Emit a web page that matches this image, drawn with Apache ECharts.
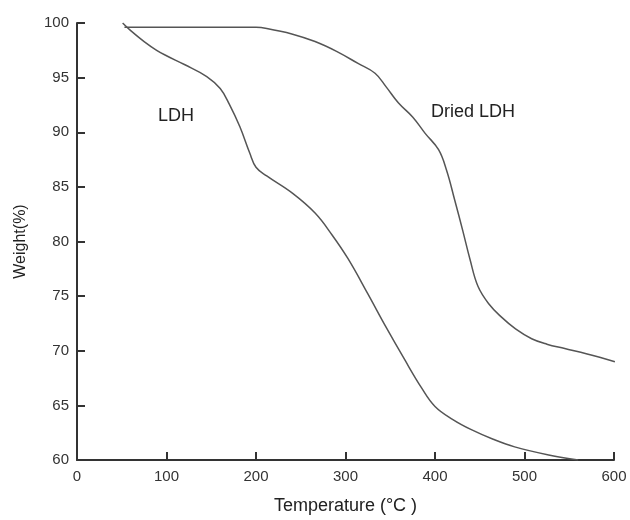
<!DOCTYPE html>
<html>
<head>
<meta charset="utf-8">
<script src="https://cdn.jsdelivr.net/npm/echarts@6/dist/echarts.min.js"></script>
<style>html,body{margin:0;padding:0;background:#fff}#c{width:630px;height:520px}</style>
</head>
<body>
<div id="c"></div>
<script>
var xTicks = [0, 100, 200, 300, 400, 500, 600];
var yTicks = [60, 65, 70, 75, 80, 85, 90, 95, 100];

var ldhTemp = [51, 60, 75, 89, 100, 120, 145, 160, 170, 182, 193, 200, 212, 241, 266, 285, 303, 325, 345, 366, 385, 400, 420, 440, 465, 489, 527, 560];
var ldhWeight = [100, 99.3, 98.3, 97.5, 97.0, 96.2, 95.1, 94.0, 92.6, 90.5, 88.1, 86.8, 86.0, 84.4, 82.6, 80.6, 78.4, 75.2, 72.2, 69.2, 66.6, 64.9, 63.7, 62.8, 61.9, 61.2, 60.46, 60.0];

var driedTemp = [53, 100, 150, 200, 212, 240, 266, 290, 314, 333, 345, 359, 375, 389, 404, 413, 422, 431, 439, 448, 460, 474, 490, 508, 525, 545, 570, 601];
var driedWeight = [99.6, 99.6, 99.6, 99.6, 99.5, 99.0, 98.3, 97.4, 96.3, 95.4, 94.2, 92.7, 91.4, 89.9, 88.4, 86.5, 83.8, 81.0, 78.4, 75.9, 74.3, 73.1, 72.0, 71.1, 70.6, 70.2, 69.7, 69.0];

var seriesNames = ['LDH', 'Dried LDH'];
var xName = 'Temperature (°C )';
var yName = 'Weight(%)';

function pairs(xs, ys) { return xs.map(function (x, i) { return [x, ys[i]]; }); }

var font = '"Liberation Sans", Arial, sans-serif';
var chart = echarts.init(document.getElementById('c'));
chart.setOption({
  backgroundColor: '#fff',
  animation: false,
  grid: { left: 77, right: 16, top: 23, bottom: 60, containLabel: false },
  xAxis: {
    type: 'value', min: xTicks[0], max: xTicks[xTicks.length - 1], interval: 100,
    name: xName, nameLocation: 'middle', nameGap: 37,
    nameTextStyle: { fontFamily: font, fontSize: 18, color: '#222' },
    axisLine: { lineStyle: { color: '#333', width: 2 } },
    axisTick: { inside: true, length: 8, lineStyle: { color: '#333', width: 2 } },
    axisLabel: { fontFamily: font, fontSize: 15, color: '#333', margin: 9 },
    splitLine: { show: false }
  },
  yAxis: {
    type: 'value', min: yTicks[0], max: yTicks[yTicks.length - 1], interval: 5,
    name: yName, nameLocation: 'middle', nameGap: 48, nameRotate: 90,
    nameTextStyle: { fontFamily: font, fontSize: 16, color: '#222' },
    axisLine: { show: true, lineStyle: { color: '#333', width: 2 } },
    axisTick: { show: true, inside: true, length: 8, lineStyle: { color: '#333', width: 2 } },
    axisLabel: { fontFamily: font, fontSize: 15, color: '#333', margin: 8 },
    splitLine: { show: false }
  },
  series: [
    { name: seriesNames[0], type: 'line', data: pairs(ldhTemp, ldhWeight), smooth: 0.4, showSymbol: false,
      lineStyle: { color: '#555', width: 1.5 } },
    { name: seriesNames[1], type: 'line', data: pairs(driedTemp, driedWeight), smooth: 0.4, showSymbol: false,
      lineStyle: { color: '#555', width: 1.5 } }
  ],
  graphic: [
    { type: 'text', left: 158, top: 107, style: { text: seriesNames[0], font: '18px ' + font, fill: '#222' } },
    { type: 'text', left: 431, top: 103, style: { text: seriesNames[1], font: '18px ' + font, fill: '#222' } }
  ]
});
</script>
</body>
</html>
